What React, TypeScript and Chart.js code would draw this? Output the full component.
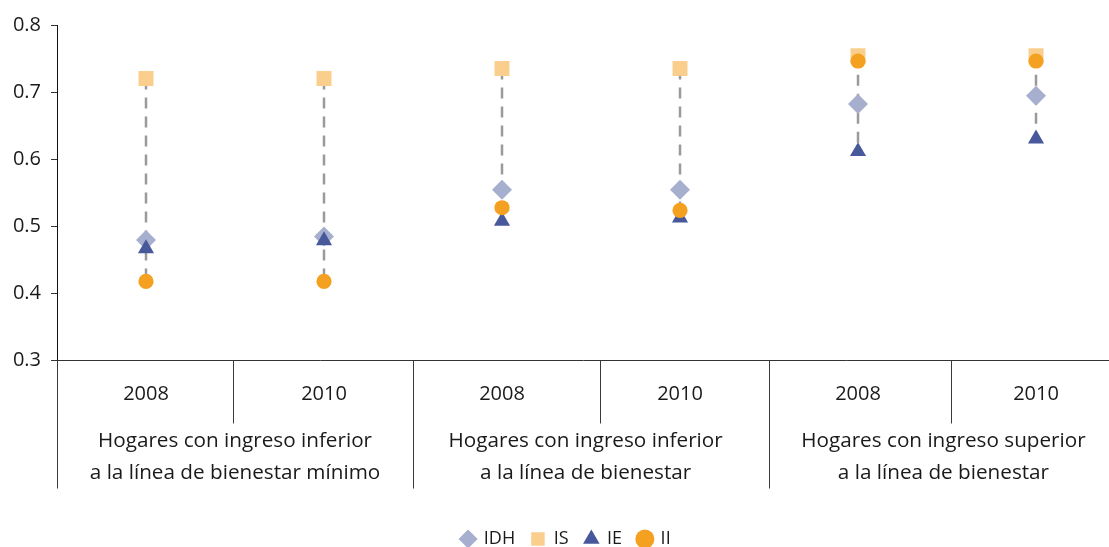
import React, { useEffect, useRef } from "react";
import { Chart, registerables } from "chart.js";

Chart.register(...registerables);

// ---------- data ----------
const positions = [0, 1, 2, 3, 4, 5];
const yearLabels = ["2008", "2010", "2008", "2010", "2008", "2010"];
const groupLine1 = [
  "Hogares con ingreso inferior",
  "Hogares con ingreso inferior",
  "Hogares con ingreso superior",
];
const groupLine2 = [
  "a la línea de bienestar mínimo",
  "a la línea de bienestar",
  "a la línea de bienestar",
];
const groupCenters = [0.5, 2.47, 4.48];
const yearSeparators = [0.49, 2.55, 4.52];
const groupSeparators = [-0.5, 1.5, 3.5];

const idhValues = [0.48, 0.485, 0.555, 0.555, 0.683, 0.695];
const isValues = [0.721, 0.721, 0.736, 0.736, 0.755, 0.755];
const ieValues = [0.467, 0.479, 0.508, 0.513, 0.612, 0.631];
const iiValues = [0.418, 0.418, 0.528, 0.524, 0.747, 0.747];

const yMin = 0.3;
const yMax = 0.8;
const yStep = 0.1;
const xMin = -0.5;
const xMax = 5.41;

const FONT = "'Open Sans', sans-serif";
const TEXT = "#1a1a1a";

const toPoints = (vals: number[]) => vals.map((v, i) => ({ x: positions[i], y: v }));

const annotationPlugin = {
  id: "annotationPlugin",
  afterLayout(chart: any) {
    const lg = chart.legend;
    if (lg) {
      const shift = 566 - (lg.left + lg.right) / 2;
      lg.left += shift;
      lg.right += shift;
      lg.top += 11;
      lg.bottom += 11;
    }
  },
  beforeDatasetsDraw(chart: any) {
    const { ctx } = chart;
    const xs = chart.scales.x;
    const ys = chart.scales.y;
    ctx.save();
    ctx.strokeStyle = "#9a9a9a";
    ctx.lineWidth = 2.5;
    ctx.setLineDash([11, 8]);
    positions.forEach((p, i) => {
      const vals = [idhValues[i], isValues[i], ieValues[i], iiValues[i]];
      const top = ys.getPixelForValue(Math.max(...vals));
      const bot = ys.getPixelForValue(Math.min(...vals));
      const x = xs.getPixelForValue(p);
      ctx.beginPath();
      ctx.moveTo(x, top);
      ctx.lineTo(x, bot);
      ctx.stroke();
    });
    ctx.restore();
  },
  afterDraw(chart: any) {
    const { ctx, chartArea } = chart;
    const xs = chart.scales.x;
    const base = chartArea.bottom;
    ctx.save();
    ctx.strokeStyle = "#3a3a3a";
    ctx.lineWidth = 1;
    yearSeparators.forEach((v) => {
      const x = Math.round(xs.getPixelForValue(v)) + 0.5;
      ctx.beginPath();
      ctx.moveTo(x, base);
      ctx.lineTo(x, base + 63);
      ctx.stroke();
    });
    groupSeparators.forEach((v) => {
      const x = Math.round(xs.getPixelForValue(v)) + 0.5;
      ctx.beginPath();
      ctx.moveTo(x, base);
      ctx.lineTo(x, base + 128);
      ctx.stroke();
    });
    ctx.fillStyle = TEXT;
    ctx.textAlign = "center";
    ctx.textBaseline = "middle";
    ctx.font = `20px ${FONT}`;
    yearLabels.forEach((t, i) => {
      ctx.fillText(t, xs.getPixelForValue(positions[i]), base + 34);
    });
    ctx.font = `20.7px ${FONT}`;
    groupCenters.forEach((c, g) => {
      const x = xs.getPixelForValue(c);
      ctx.fillText(groupLine1[g], x, base + 81);
      ctx.fillText(groupLine2[g], x, base + 113);
    });
    ctx.restore();
  },
};

export default function App() {
  const canvasRef = useRef<HTMLCanvasElement | null>(null);

  useEffect(() => {
    if (!canvasRef.current) return;
    const chart = new Chart(canvasRef.current, {
      type: "scatter",
      data: {
        datasets: [
          {
            label: "IDH",
            data: toPoints(idhValues),
            pointStyle: "rectRot",
            pointRadius: 10,
            backgroundColor: "#a7afcf",
            borderColor: "#a7afcf",
            borderWidth: 0,
            order: 2,
          },
          {
            label: "IS",
            data: toPoints(isValues),
            pointStyle: "rect",
            pointRadius: 10.6,
            backgroundColor: "#facf8e",
            borderColor: "#facf8e",
            borderWidth: 0,
            order: 3,
          },
          {
            label: "IE",
            data: toPoints(ieValues),
            pointStyle: "triangle",
            pointRadius: 9.3,
            backgroundColor: "#47599a",
            borderColor: "#47599a",
            borderWidth: 0,
            order: 1,
          },
          {
            label: "II",
            data: toPoints(iiValues),
            pointStyle: "circle",
            pointRadius: 7.6,
            backgroundColor: "#f4a021",
            borderColor: "#f4a021",
            borderWidth: 0,
            order: 0,
          },
        ],
      },
      options: {
        animation: false,
        responsive: true,
        maintainAspectRatio: false,
        layout: { autoPadding: false, padding: { top: 25.5, left: 0, right: 0, bottom: 0 } },
        plugins: {
          legend: {
            position: "bottom",
            labels: {
              usePointStyle: true,
              boxWidth: 13.5,
              boxHeight: 13.5,
              padding: 16,
              color: TEXT,
              font: { family: FONT, size: 18 },
              sort: (a: any, b: any) => a.datasetIndex - b.datasetIndex,
            },
          },
          tooltip: { enabled: false },
        },
        scales: {
          x: {
            type: "linear",
            min: xMin,
            max: xMax,
            ticks: { display: false, callback: () => "" },
            grid: { display: false, drawTicks: false },
            border: { display: true, color: "#333333", width: 1 },
            afterFit: (s: any) => {
              s.height = 142.5;
            },
          },
          y: {
            min: yMin,
            max: yMax,
            ticks: {
              stepSize: yStep,
              padding: 10,
              color: TEXT,
              font: { family: FONT, size: 20 },
              callback: (v: any) => Number(v).toFixed(1),
            },
            grid: { drawOnChartArea: false, tickLength: 6, color: "#333333" },
            border: { display: true, color: "#111111", width: 1 },
            afterFit: (s: any) => {
              s.width = 57;
            },
          },
        },
      },
      plugins: [annotationPlugin],
    });
    return () => chart.destroy();
  }, []);

  return (
    <div style={{ position: "absolute", left: 0, top: 0, width: 1109, height: 547 }}>
      <canvas ref={canvasRef} style={{ display: "block" }} />
    </div>
  );
}
